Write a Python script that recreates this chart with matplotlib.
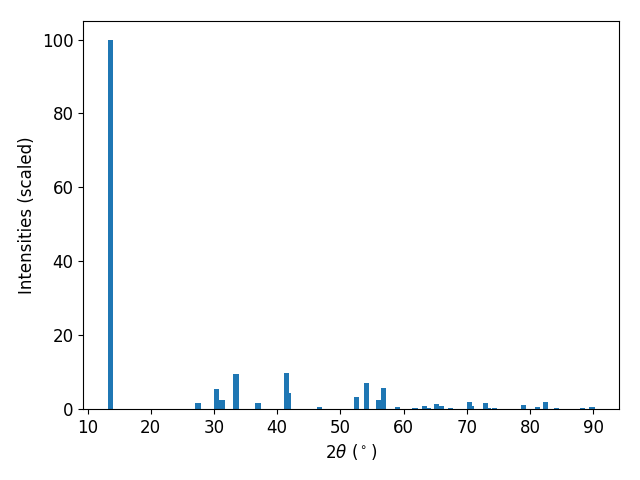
import matplotlib
matplotlib.use("Agg")
import matplotlib.pyplot as plt

two_theta = [13.56, 27.47, 30.47, 31.27, 33.48, 36.96, 41.86, 41.54, 46.76,
             52.6, 54.19, 56.09, 56.88, 59.0, 61.8, 63.9, 63.36, 66.0, 65.26,
             67.47, 70.79, 70.47, 73.0, 73.45, 74.35, 78.93, 81.2, 82.4,
             84.2, 88.3, 89.8]
intensity = [100, 1.7, 5.5, 2.3, 9.6, 1.7, 4.2, 9.85, 0.6,
             3.3, 6.9, 2.5, 5.8, 0.6, 0.35, 0.35, 0.9, 0.9, 1.45,
             0.35, 0.9, 2.0, 1.7, 0.35, 0.35, 1.2, 0.6, 2.0,
             0.35, 0.35, 0.6]

plt.rcParams['font.size'] = 12

fig, ax = plt.subplots(figsize=(6.4, 4.8), dpi=100)
ax.bar(two_theta, intensity, width=0.8, color='#1f77b4')
ax.set_xlabel(r'$2\theta$ ($^\circ$)')
ax.set_ylabel('Intensities (scaled)')

fig.subplots_adjust(left=0.130, right=0.967, top=0.956, bottom=0.148)
plt.savefig('out.png')
